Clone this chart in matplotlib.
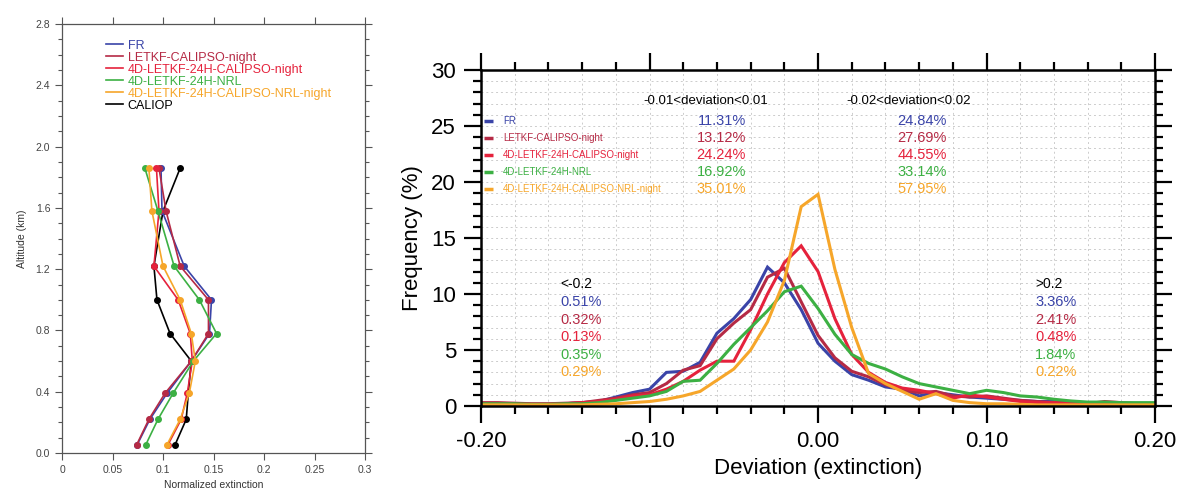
import matplotlib
matplotlib.use("Agg")
import matplotlib.pyplot as plt
import numpy as np

plt.rcParams['font.family'] = ['Liberation Sans', 'DejaVu Sans']

# ---- left panel: normalized extinction profiles
altitude = [0.055, 0.22, 0.39, 0.60, 0.78, 1.00, 1.22, 1.58, 1.86]
prof_fr = [0.0745, 0.087, 0.104, 0.128, 0.146, 0.148, 0.121, 0.099, 0.098]
prof_letkf = [0.074, 0.086, 0.102, 0.128, 0.145, 0.145, 0.117, 0.103, 0.096]
prof_4d = [0.105, 0.118, 0.124, 0.129, 0.127, 0.115, 0.091, 0.096, 0.0935]
prof_4d_nrl = [0.083, 0.095, 0.110, 0.130, 0.153, 0.136, 0.111, 0.095, 0.082]
prof_4d_nrl_night = [0.104, 0.117, 0.126, 0.132, 0.128, 0.117, 0.100, 0.089, 0.086]
prof_caliop = [0.112, 0.123, 0.125, 0.128, 0.107, 0.094, 0.091, 0.100, 0.117]

# ---- right panel: deviation histograms
bins = np.linspace(-0.20, 0.20, 41)
freq_fr = [0.2, 0.2, 0.2, 0.15, 0.15, 0.2, 0.3, 0.4, 0.8, 1.2,
           1.5, 3.0, 3.1, 3.9, 6.5, 7.8, 9.5, 12.4, 11.0, 8.6, 5.6,
           4.0, 2.8, 2.3, 1.7, 1.5, 0.9, 1.2, 1.0, 0.8, 0.7, 0.6, 0.5, 0.4, 0.4, 0.3, 0.2, 0.2, 0.2, 0.2, 0.2]
freq_letkf = [0.3, 0.3, 0.25, 0.2, 0.2, 0.25, 0.3, 0.5, 0.7, 1.0,
              1.2, 2.0, 3.2, 3.6, 6.0, 7.4, 8.6, 11.5, 12.3, 9.3, 6.3,
              4.3, 3.1, 2.6, 1.9, 1.4, 1.2, 1.3, 0.9, 0.8, 0.9, 0.7, 0.5, 0.4, 0.3, 0.3, 0.2, 0.4, 0.3, 0.2, 0.2]
freq_4d = [0.2, 0.2, 0.2, 0.15, 0.15, 0.2, 0.3, 0.4, 0.6, 0.9,
           1.0, 1.5, 2.2, 3.2, 4.0, 4.0, 6.8, 10.0, 12.8, 14.3, 12.0,
           7.8, 4.6, 3.0, 2.1, 1.6, 1.4, 1.1, 0.7, 1.0, 0.8, 0.6, 0.4, 0.3, 0.3, 0.2, 0.2, 0.2, 0.2, 0.2, 0.2]
freq_4d_nrl = [0.2, 0.2, 0.2, 0.15, 0.15, 0.2, 0.2, 0.3, 0.5, 0.7,
               0.9, 1.3, 2.2, 2.3, 3.8, 5.5, 7.0, 8.5, 10.2, 10.7, 8.7,
               6.4, 4.6, 3.8, 3.3, 2.6, 2.0, 1.7, 1.4, 1.1, 1.4, 1.2, 0.9, 0.8, 0.6, 0.45, 0.35, 0.35, 0.3, 0.3, 0.3]
freq_4d_nrl_night = [0.1, 0.1, 0.1, 0.1, 0.1, 0.1, 0.1, 0.15, 0.2, 0.3,
                     0.4, 0.6, 0.9, 1.3, 2.3, 3.3, 5.0, 7.5, 11.2, 17.8, 18.9,
                     12.2, 7.0, 2.9, 2.0, 1.3, 0.6, 1.1, 0.5, 0.3, 0.2, 0.2, 0.15, 0.1, 0.1, 0.1, 0.1, 0.1, 0.1, 0.1, 0.1]

names = ["FR", "LETKF-CALIPSO-night", "4D-LETKF-24H-CALIPSO-night",
         "4D-LETKF-24H-NRL", "4D-LETKF-24H-CALIPSO-NRL-night"]
colors = ["#3a44a8", "#b52a45", "#e5223c", "#3cb043", "#f6a62a"]
pct_01 = ["11.31%", "13.12%", "24.24%", "16.92%", "35.01%"]
pct_02 = ["24.84%", "27.69%", "44.55%", "33.14%", "57.95%"]
pct_low = ["0.51%", "0.32%", "0.13%", "0.35%", "0.29%"]
pct_high = ["3.36%", "2.41%", "0.48%", "1.84%", "0.22%"]

fig = plt.figure(figsize=(11.79, 4.93), dpi=100)

# ================= left panel
ax1 = fig.add_axes([0.0526, 0.0811, 0.257, 0.870])
# CALIOP underneath the model lines
ax1.plot(prof_caliop, altitude, color='black', lw=1.2, marker='o', ms=4, label="CALIOP", zorder=2)
profiles = [prof_fr, prof_letkf, prof_4d, prof_4d_nrl, prof_4d_nrl_night]
for p, c, n in zip(profiles, colors, names):
    ax1.plot(p, altitude, color=c, lw=1.2, marker='o', ms=4, label=n, zorder=3)
ax1.set_xlim(0, 0.3)
ax1.set_ylim(0, 2.8)
ax1.set_xticks([0, 0.05, 0.1, 0.15, 0.2, 0.25, 0.3])
ax1.set_xticklabels(["0", "0.05", "0.1", "0.15", "0.2", "0.25", "0.3"])
ax1.set_yticks(np.arange(0, 2.81, 0.4))
ax1.set_yticklabels(["%.1f" % v for v in np.arange(0, 2.81, 0.4)])
ax1.set_yticks(np.arange(0, 2.81, 0.1), minor=True)
ax1.tick_params(which='both', direction='out', top=True, right=True, labelsize=7.5,
                labelcolor='#444444', color='#555555', width=0.8)
ax1.tick_params(which='major', length=5)
ax1.tick_params(which='minor', length=3)
for s in ax1.spines.values():
    s.set_color('#555555')
    s.set_linewidth(0.9)
ax1.set_ylabel("Altitude (km)", fontsize=7.5, color='#333333', labelpad=6)
ax1.set_xlabel("Normalized extinction", fontsize=7.5, color='#333333', labelpad=4)
handles, labels = ax1.get_legend_handles_labels()
handles = handles[1:] + handles[:1]
labels = labels[1:] + labels[:1]
leg = ax1.legend(handles, labels, loc='upper left', bbox_to_anchor=(0.13, 0.975), frameon=False,
                 fontsize=9, handlelength=1.3, handletextpad=0.4, labelspacing=0.0,
                 labelcolor='linecolor', borderaxespad=0)
for h in leg.legend_handles:
    h.set_marker('')

# ================= right panel
ax2 = fig.add_axes([0.408, 0.1765, 0.5717, 0.6815])
series = [freq_fr, freq_letkf, freq_4d, freq_4d_nrl, freq_4d_nrl_night]
for f, c in zip(series, colors):
    ax2.plot(bins, f, color=c, lw=2.2, solid_joinstyle='miter')
ax2.set_xlim(-0.2, 0.2)
ax2.set_ylim(0, 30)
ax2.set_xticks([-0.2, -0.1, 0.0, 0.1, 0.2])
ax2.set_xticklabels(["-0.20", "-0.10", "0.00", "0.10", "0.20"])
ax2.set_xticks(np.arange(-0.2, 0.201, 0.02), minor=True)
ax2.set_yticks(np.arange(0, 31, 5))
ax2.set_yticks(np.arange(0, 31, 1), minor=True)
ax2.grid(which='both', color='#cccccc', lw=0.7, linestyle=(0, (2, 3)))
ax2.set_axisbelow(True)
ax2.tick_params(which='both', direction='out', top=True, right=True, labelsize=16,
                width=1.6, color='black')
ax2.tick_params(which='major', length=12, pad=6)
ax2.tick_params(which='minor', length=6)
for s in ax2.spines.values():
    s.set_linewidth(1.8)
ax2.set_ylabel("Frequency (%)", fontsize=16, labelpad=6)
ax2.set_xlabel("Deviation (extinction)", fontsize=16, labelpad=4)

# legend with percentages
row_y = [0.848, 0.798, 0.747, 0.696, 0.646]
tr = ax2.transAxes
ax2.text(0.334, 0.908, "-0.01<deviation<0.01", transform=tr, fontsize=9.5, ha='center', va='center')
ax2.text(0.634, 0.908, "-0.02<deviation<0.02", transform=tr, fontsize=9.5, ha='center', va='center')
for y, c, n, a, b in zip(row_y, colors, names, pct_01, pct_02):
    ax2.plot([0.005, 0.018], [y, y], transform=tr, color=c, lw=2.5, solid_capstyle='butt')
    ax2.text(0.033, y, n, transform=tr, fontsize=7, color=c, ha='left', va='center')
    ax2.text(0.393, y, a, transform=tr, fontsize=10.5, color=c, ha='right', va='center')
    ax2.text(0.691, y, b, transform=tr, fontsize=10.5, color=c, ha='right', va='center')

low_y = [0.310, 0.256, 0.205, 0.152, 0.101]
ax2.text(0.117, 0.363, "<-0.2", transform=tr, fontsize=10, ha='left', va='center')
ax2.text(0.822, 0.363, ">0.2", transform=tr, fontsize=10, ha='left', va='center')
for y, c, a, b in zip(low_y, colors, pct_low, pct_high):
    ax2.text(0.117, y, a, transform=tr, fontsize=10.5, color=c, ha='left', va='center')
    ax2.text(0.822, y, b, transform=tr, fontsize=10.5, color=c, ha='left', va='center')

fig.savefig("out.png", dpi=100)
